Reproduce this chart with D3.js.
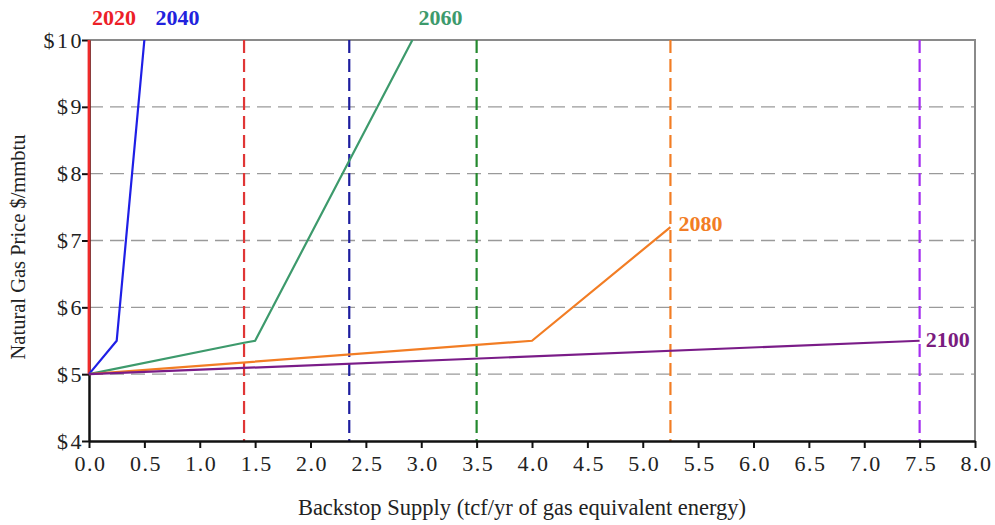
<!DOCTYPE html>
<html>
<head>
<meta charset="utf-8">
<script src="https://cdn.jsdelivr.net/npm/d3@7"></script>
<style>
  body { margin: 0; background: #fff; }
  svg { font-family: "Liberation Serif", "Times New Roman", serif; }
</style>
</head>
<body>
<div id="chart"></div>
<script>
// data
var years = ["2020", "2040", "2060", "2080", "2100"];
var line2020 = [[0, 5], [0, 10]];
var line2040 = [[0, 5], [0.25, 5.5], [0.5, 10]];
var line2060 = [[0, 5], [1.4, 5.47], [1.5, 5.5], [2.92, 10]];
var line2080 = [[0, 5], [4.0, 5.5], [5.25, 7.2]];
var line2100 = [[0, 5], [7.5, 5.5]];
var capacity = [1.4, 2.35, 3.5, 5.25, 7.5];   // dashed vertical limits
var labelAt = [[0, 10], [0.5, 10], [2.92, 10], [5.25, 7.2], [7.5, 5.5]];
var xTicks = [0, 0.5, 1, 1.5, 2, 2.5, 3, 3.5, 4, 4.5, 5, 5.5, 6, 6.5, 7, 7.5, 8];
var yTicks = [4, 5, 6, 7, 8, 9, 10];
var gridTicks = [5, 6, 7, 8, 9];

var lineColors = ["#ee2a2a", "#1f1fe6", "#3d9a6c", "#f27d24", "#7a1c88"];
var dashColors = ["#e03636", "#1d1d9e", "#24892e", "#f27d24", "#a52ef0"];
var labelColors = ["#ec2027", "#2222dd", "#3d9a6c", "#f27d24", "#7a1c80"];

// set the dimensions and margins of the graph
var margin = {top: 40, right: 20, bottom: 84, left: 89},
  width = 995 - margin.left - margin.right,
  height = 525 - margin.top - margin.bottom;

var svg = d3.select("#chart")
.append("svg")
  .attr("width", width + margin.left + margin.right)
  .attr("height", height + margin.top + margin.bottom)
.append("g")
  .attr("transform", "translate(" + margin.left + "," + margin.top + ")");

var x = d3.scaleLinear().domain([0, 8]).range([0, width]);
var y = d3.scaleLinear().domain([4, 10]).range([height, 0]);

// clip a bit wider on the left so the 2020 line at x=0 keeps its width
svg.append("clipPath").attr("id", "clip")
  .append("rect").attr("x", -4).attr("width", width + 4).attr("height", height);

// horizontal grid
svg.selectAll("grid")
  .data(gridTicks).enter()
  .append("line")
    .attr("x1", 0).attr("x2", width)
    .attr("y1", function(d) { return y(d); })
    .attr("y2", function(d) { return y(d); })
    .style("stroke", "#9a9a9a")
    .style("stroke-width", 1.3)
    .style("stroke-dasharray", "14,7");

// top and right border
svg.append("path")
  .attr("d", "M0," + y(10) + "H" + x(8) + "V" + y(4))
  .style("fill", "none")
  .style("stroke", "#8a8a8a")
  .style("stroke-width", 2);

// dashed capacity lines
svg.selectAll("cap")
  .data(capacity).enter()
  .append("line")
    .attr("x1", function(d) { return x(d); })
    .attr("x2", function(d) { return x(d); })
    .attr("y1", y(10)).attr("y2", y(4))
    .style("stroke", function(d, i) { return dashColors[i]; })
    .style("stroke-width", 2.2)
    .style("stroke-dasharray", "13,6");

// axes
var xAxis = svg.append("g")
  .attr("transform", "translate(0," + height + ")")
  .call(d3.axisBottom(x).tickValues(xTicks).tickSize(7).tickSizeOuter(0)
    .tickFormat(d3.format(".1f")));
var yAxis = svg.append("g")
  .call(d3.axisLeft(y).tickValues(yTicks).tickSize(7).tickSizeOuter(0)
    .tickFormat(function(d) { return "$" + d; }));

[xAxis, yAxis].forEach(function(a) {
  a.select(".domain").style("stroke", "#111").style("stroke-width", 2.5);
  a.selectAll(".tick line").style("stroke", "#111").style("stroke-width", 2);
  a.selectAll(".tick text")
    .style("font-family", "Liberation Serif, serif")
    .style("font-size", "22px")
    .style("fill", "#222");
});
xAxis.selectAll(".tick text").attr("dy", "0.9em").attr("dx", 1).style("letter-spacing", "1.5px");
yAxis.selectAll(".tick text").attr("x", -5).style("letter-spacing", "2.5px");

// the price curves
var series = [line2020, line2040, line2060, line2080, line2100];
var line = d3.line()
  .x(function(d) { return x(d[0]); })
  .y(function(d) { return y(d[1]); });

svg.append("g").attr("clip-path", "url(#clip)")
  .selectAll("path")
  .data(series).enter()
  .append("path")
    .attr("d", line)
    .style("fill", "none")
    .style("stroke", function(d, i) { return lineColors[i]; })
    .style("stroke-width", function(d, i) { return i == 0 ? 2.8 : 2.2; });

// year labels
var offsets = [[3, -15], [11, -15], [6, -15], [8, 4], [6, 6]];
svg.selectAll("yearLabel")
  .data(years).enter()
  .append("text")
    .attr("x", function(d, i) { return x(labelAt[i][0]) + offsets[i][0]; })
    .attr("y", function(d, i) { return y(labelAt[i][1]) + offsets[i][1]; })
    .style("font-size", "22px")
    .style("font-weight", "bold")
    .style("fill", function(d, i) { return labelColors[i]; })
    .text(function(d) { return d; });

// axis titles
svg.append("text")
  .attr("x", 433)
  .attr("y", height + 74)
  .attr("text-anchor", "middle")
  .style("font-size", "22.5px")
  .style("fill", "#222")
  .text("Backstop Supply (tcf/yr of gas equivalent energy)");

svg.append("text")
  .attr("transform", "translate(" + (-64) + "," + 207 + ") rotate(-90)")
  .attr("text-anchor", "middle")
  .style("font-size", "20.5px")
  .style("fill", "#222")
  .text("Natural Gas Price $/mmbtu");
</script>
</body>
</html>
